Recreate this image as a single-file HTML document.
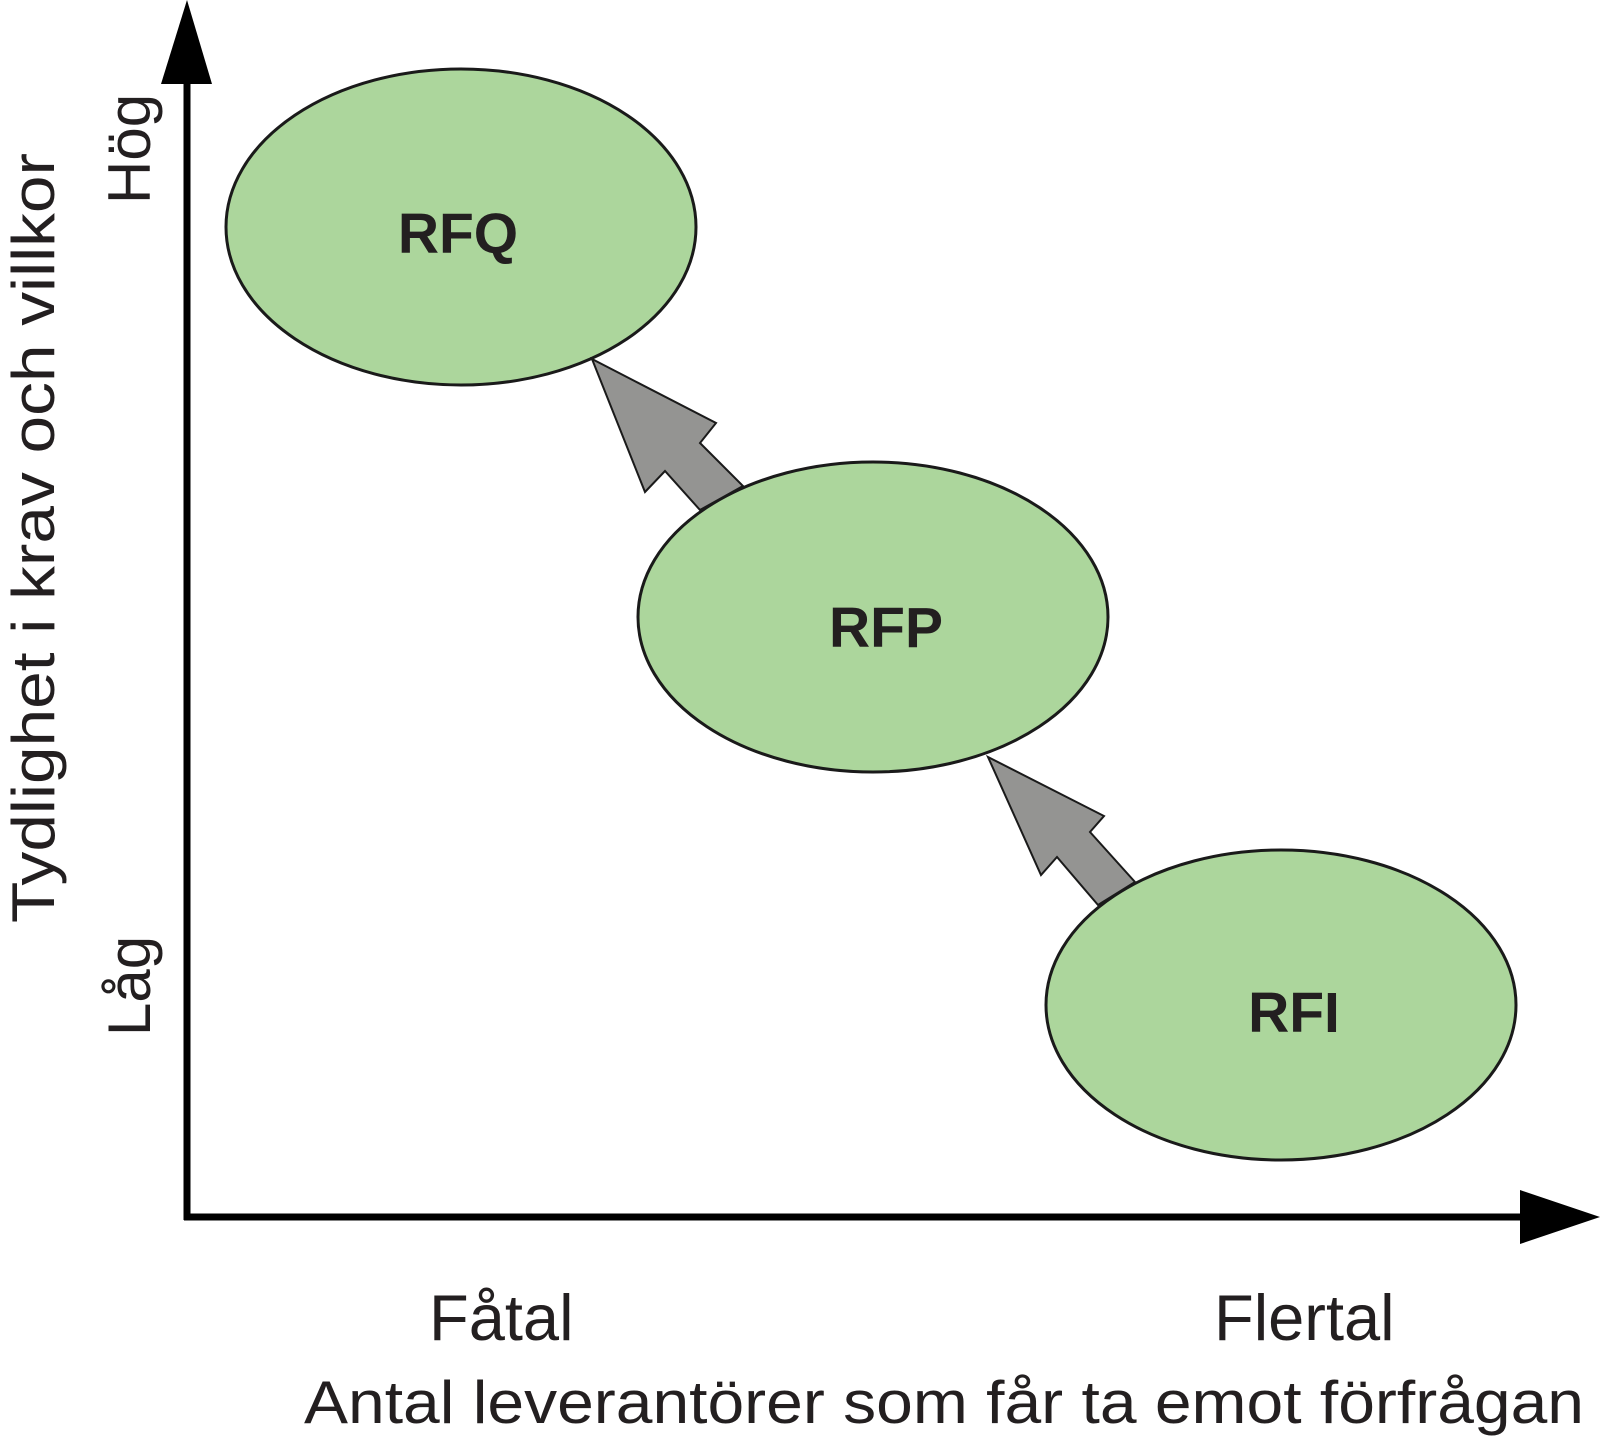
<!DOCTYPE html>
<html><head><style>html,body{margin:0;padding:0;background:#fff}</style></head>
<body>
<svg width="1600" height="1448" xmlns="http://www.w3.org/2000/svg" font-family="Liberation Sans, Arial, sans-serif">
<rect width="1600" height="1448" fill="#fff"/>
<line x1="187" y1="80" x2="187" y2="1220" stroke="#000" stroke-width="7"/>
<polygon points="161,84 212,84 187,0" fill="#000"/>
<line x1="184" y1="1217" x2="1525" y2="1217" stroke="#000" stroke-width="7"/>
<polygon points="1520,1190 1520,1244 1600,1217" fill="#000"/>
<g fill="#acd69c" stroke="#1a1a1a" stroke-width="3">
<ellipse cx="461" cy="227" rx="235" ry="158"/>
<ellipse cx="873" cy="617" rx="235" ry="155"/>
<ellipse cx="1281" cy="1005" rx="235" ry="155"/>
</g>
<g fill="#949492" stroke="#1a1a1a" stroke-width="2">
<polygon points="592,359 716,423 700,443 743,486 700,510 665,471 645,492"/>
<polygon points="988,757 1104,816 1090,832 1135,882 1098,905 1057,857 1041,875"/>
</g>
<g font-weight="bold" font-size="57" fill="#231f20" text-anchor="middle">
<text x="458" y="253">RFQ</text>
<text x="886" y="647">RFP</text>
<text x="1294" y="1032">RFI</text>
</g>
<g font-size="60" fill="#231f20">
<text x="429" y="1340" font-size="65">Fåtal</text>
<text x="1214" y="1340" font-size="65">Flertal</text>
<text x="304" y="1423" textLength="1280" lengthAdjust="spacingAndGlyphs">Antal leverantörer som får ta emot förfrågan</text>
<text transform="translate(54,923) rotate(-90)" textLength="770" lengthAdjust="spacingAndGlyphs">Tydlighet i krav och villkor</text>
<text transform="translate(150,204) rotate(-90)">Hög</text>
<text transform="translate(150,1036) rotate(-90)">Låg</text>
</g>
</svg>
</body></html>
